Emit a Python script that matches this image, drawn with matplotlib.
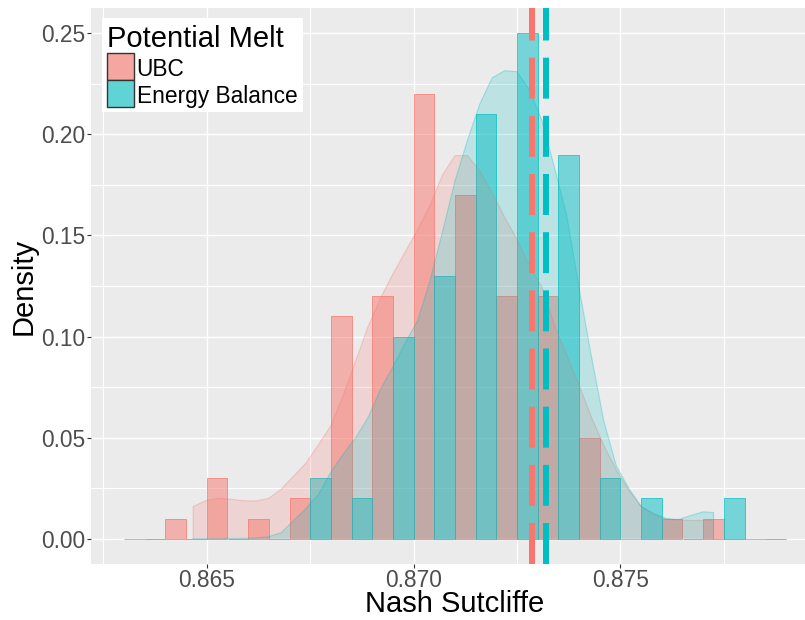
import matplotlib
matplotlib.use("Agg")
import matplotlib.pyplot as plt
from matplotlib.patches import Rectangle
from matplotlib.ticker import FixedLocator

plt.rcParams["font.family"] = ["Liberation Sans", "DejaVu Sans"]

UBC_COL = "#F8766D"
EB_COL = "#00BFC4"
PANEL_BG = "#EBEBEB"

# histogram bins (0.001 wide), proportion of runs in each bin
bin_lo = [0.863, 0.864, 0.865, 0.866, 0.867, 0.868, 0.869, 0.870,
          0.871, 0.872, 0.873, 0.874, 0.875, 0.876, 0.877, 0.878]
ubc_prop = [0.00, 0.01, 0.03, 0.01, 0.02, 0.11, 0.12, 0.22,
            0.17, 0.12, 0.12, 0.05, 0.00, 0.01, 0.01, 0.00]
eb_prop = [0.00, 0.00, 0.00, 0.00, 0.03, 0.02, 0.10, 0.13,
           0.21, 0.25, 0.19, 0.03, 0.02, 0.00, 0.02, 0.00]

# smoothed densities (scaled to bin width)
dens_x = [0.86467, 0.8650, 0.8653, 0.8656, 0.8659, 0.8662, 0.8665, 0.8668,
          0.8671, 0.8674, 0.8677, 0.8680, 0.8683, 0.8686, 0.8689, 0.8692,
          0.8695, 0.8698, 0.8701, 0.8704, 0.8707, 0.8710, 0.8713, 0.8716,
          0.8719, 0.8722, 0.8725, 0.8728, 0.8731, 0.8734, 0.8737, 0.8740,
          0.8743, 0.8746, 0.8749, 0.8752, 0.8755, 0.8758, 0.8761, 0.8764,
          0.8767, 0.8770, 0.87725]
ubc_dens = [0.016, 0.019, 0.020, 0.0195, 0.0188, 0.0187, 0.020, 0.0245,
            0.031, 0.0375, 0.0465, 0.056, 0.071, 0.088, 0.105, 0.119,
            0.131, 0.142, 0.153, 0.165, 0.180, 0.1895, 0.1895, 0.182,
            0.171, 0.159, 0.148, 0.135, 0.1245, 0.106, 0.091, 0.076,
            0.060, 0.046, 0.034, 0.024, 0.016, 0.012, 0.0098, 0.0092,
            0.009, 0.009, 0.0092]
eb_dens = [0.0, 0.0, 0.0, 0.0001, 0.0002, 0.0004, 0.001, 0.003,
           0.009, 0.015, 0.022, 0.033, 0.042, 0.050, 0.060, 0.074,
           0.085, 0.097, 0.108, 0.128, 0.152, 0.177, 0.197, 0.215,
           0.228, 0.2315, 0.231, 0.222, 0.207, 0.184, 0.160, 0.124,
           0.090, 0.058, 0.036, 0.025, 0.016, 0.0125, 0.010, 0.0095,
           0.0115, 0.0133, 0.013]

ubc_mean = 0.87285
eb_mean = 0.87321

groups = ["UBC", "Energy Balance"]

W, H = 805, 620
fig = plt.figure(figsize=(W / 100, H / 100), dpi=100)
# panel runs a little past the right edge of the canvas
ax = fig.add_axes([91 / W, (H - 564) / H, (819 - 91) / W, 556 / H])
ax.set_facecolor(PANEL_BG)
for s in ax.spines.values():
    s.set_visible(False)

half = 0.0005
ax.bar(bin_lo, ubc_prop, width=half, align="edge",
       facecolor=(248 / 255, 118 / 255, 109 / 255, 0.5),
       edgecolor=UBC_COL, linewidth=0.5, zorder=2)
ax.bar([b + half for b in bin_lo], eb_prop, width=half, align="edge",
       facecolor=(0, 191 / 255, 196 / 255, 0.5),
       edgecolor=EB_COL, linewidth=0.5, zorder=2)

for dens, col in [(ubc_dens, UBC_COL), (eb_dens, EB_COL)]:
    px = [dens_x[0]] + dens_x + [dens_x[-1]]
    py = [0] + dens + [0]
    ax.fill(px, py, facecolor=col, alpha=0.2, zorder=3, linewidth=0)
    ax.plot(px, py, color=col, alpha=0.3, linewidth=0.8, zorder=3)

# group means, 41px dash / 17px gap at 6px width
for m, col in [(ubc_mean, UBC_COL), (eb_mean, EB_COL)]:
    ax.axvline(m, color=col, linewidth=4.3, linestyle=(0, (6.86, 2.88)),
               dash_capstyle="butt", zorder=4)

ax.set_xlim(0.8622, 0.8798)
ax.set_ylim(-0.0125, 0.2625)
ax.set_xticks([0.865, 0.870, 0.875])
ax.set_xticklabels(["0.865", "0.870", "0.875"])
ax.set_yticks([0.0, 0.05, 0.10, 0.15, 0.20, 0.25])
ax.set_yticklabels(["0.00", "0.05", "0.10", "0.15", "0.20", "0.25"])
ax.xaxis.set_minor_locator(FixedLocator([0.8625, 0.8675, 0.8725, 0.8775]))
ax.yaxis.set_minor_locator(FixedLocator([0.025, 0.075, 0.125, 0.175, 0.225]))
ax.grid(which="major", color="white", linewidth=1.0)
ax.grid(which="minor", color="white", linewidth=0.8)
ax.set_axisbelow(True)
ax.tick_params(which="major", length=2.9, width=0.8, color="#333333",
               labelsize=16.4, labelcolor="#4D4D4D", pad=1.5)
ax.tick_params(which="minor", length=0)
ax.tick_params(axis="x", pad=0.8)

ax.set_xlabel("Nash Sutcliffe", fontsize=21, va="baseline")
ax.set_ylabel("Density", fontsize=21, labelpad=2)
ax.xaxis.set_label_coords((455 - 91) / 728, -(612 - 564) / 556)


def fx(p):
    return p / W


def fy(p):
    return 1 - p / H


# legend box
fig.add_artist(Rectangle((fx(102), fy(112)), fx(303) - fx(102), fy(18) - fy(112),
                         transform=fig.transFigure, facecolor="white",
                         edgecolor="none", zorder=5))
fig.text(fx(107), fy(46.7), "Potential Melt", fontsize=21, ha="left",
         va="baseline", zorder=6)
key_top = [53.3, 80.0]
for name, col, top in zip(groups, [UBC_COL, EB_COL], key_top):
    kw = dict(transform=fig.transFigure, zorder=6)
    xy = (fx(107.3), fy(top + 26.7))
    w, h = fx(134) - fx(107.3), fy(top) - fy(top + 26.7)
    fig.add_artist(Rectangle(xy, w, h, facecolor="#F2F2F2", edgecolor="none", **kw))
    fig.add_artist(Rectangle(xy, w, h, facecolor=col, alpha=0.5, edgecolor="none", **kw))
    fig.add_artist(Rectangle(xy, w, h, facecolor=col, alpha=0.2, edgecolor="none", **kw))
    fig.add_artist(Rectangle(xy, w, h, facecolor="none", edgecolor="#333333",
                             linewidth=1.0, **kw))
    fig.text(fx(136.7), fy(top + 22.5), name, fontsize=16.4, ha="left",
             va="baseline", zorder=7)

fig.savefig("out.png", dpi=100)
